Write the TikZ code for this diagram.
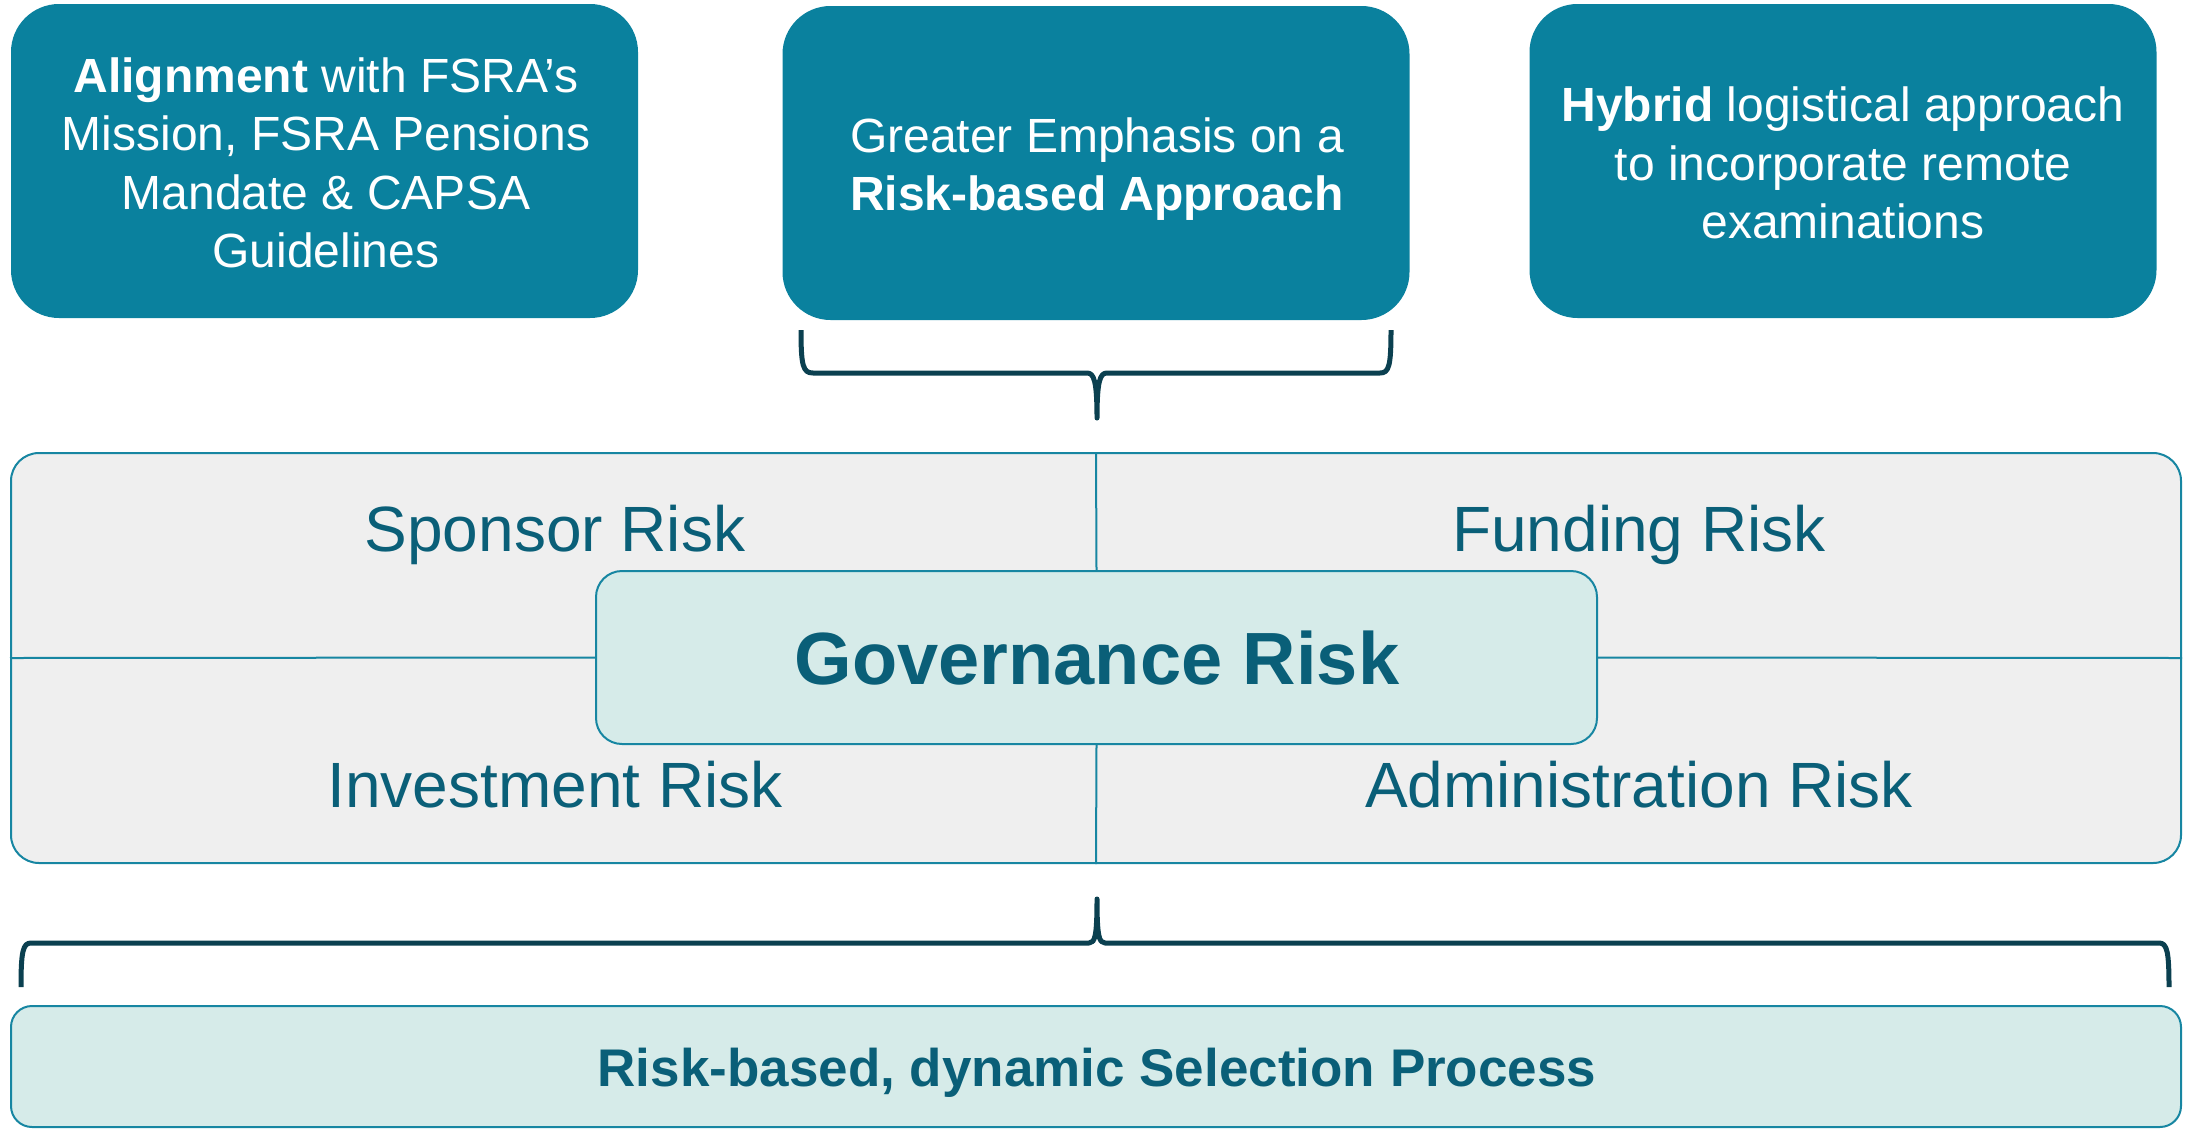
\documentclass[tikz,border=0pt]{standalone}
\usepackage{fontspec}
\setmainfont{Liberation Sans}
\definecolor{tealbox}{RGB}{10,129,158}
\definecolor{tealline}{RGB}{23,134,162}
\definecolor{tealtext}{RGB}{10,95,120}
\definecolor{bracecol}{RGB}{11,64,80}
\definecolor{panelgray}{RGB}{239,239,239}
\definecolor{govfill}{RGB}{214,235,233}
\begin{document}
\begin{tikzpicture}[x=1pt,y=-1pt,
  topbox/.style={draw=none,fill=tealbox,rounded corners=48pt,
    minimum width=627pt,minimum height=314pt,inner sep=0pt},
  toptext/.style={text=white,align=center,inner sep=0pt,
    font=\fontsize{48}{58.5}\selectfont},
  risklabel/.style={text=tealtext,anchor=base,inner sep=0pt,font=\fontsize{64}{70}\selectfont},
  divider/.style={draw=tealline,line width=2pt},
  bracepath/.style={draw=bracecol,line width=5pt,line join=round}]
\useasboundingbox (0,0) rectangle (2185,1128);

% three headline boxes
\node[topbox] (align) at (324.5,161) {};
\node[toptext] (aligntext) at (326,163) {\textbf{Alignment} with FSRA’s\\Mission, FSRA Pensions\\Mandate \& CAPSA\\Guidelines};
\node[topbox] (emph) at (1096,163) {};
\node[toptext] (emphtext) at (1097,169) {Greater Emphasis on a\\\textbf{Risk-based Approach}};
\node[topbox] (hybrid) at (1843,161) {};
\node[toptext] (hybridtext) at (1843,163) {\textbf{Hybrid} logistical approach\\to incorporate remote\\examinations};

% brace under the middle box
\coordinate (b1l) at (801,330);
\coordinate (b1t) at (1097,418);
\coordinate (b1r) at (1391,330);
\draw[bracepath] (b1l) .. controls (801,366) and (803,373) .. (813,373) -- (1087,373)
  .. controls (1094,373) and (1097,381) .. (b1t)
  .. controls (1097,381) and (1100,373) .. (1107,373) -- (1380,373)
  .. controls (1389,373) and (1391,366) .. (b1r);

% risk panel
\node[draw=tealline,line width=2pt,fill=panelgray,rounded corners=28pt,
  minimum width=2170pt,minimum height=410pt,inner sep=0pt] (panel) at (1096,658) {};
\node[draw=tealline,line width=2pt,fill=govfill,rounded corners=26pt,
  minimum width=1001pt,minimum height=173pt,inner sep=0pt] (gov) at (1096.5,657.5) {};
\draw[divider] (panel.north) -- (gov.north);
\draw[divider] (gov.south) -- (panel.south);
\draw[divider] (panel.west) -- (gov.west);
\draw[divider] (gov.east) -- (panel.east);
\node[text=tealtext,anchor=base,inner sep=0pt,font=\fontsize{74}{80}\selectfont\bfseries] (govtext) at (1097,684) {Governance Risk};

\node[risklabel] (sponsor) at (555,551) {Sponsor Risk};
\node[risklabel] (funding) at (1639,551) {Funding Risk};
\node[risklabel] (invest) at (555,807) {Investment Risk};
\node[risklabel] (admin) at (1639,807) {Administration Risk};

% brace above the selection box
\coordinate (b2l) at (21,987);
\coordinate (b2t) at (1097,899);
\coordinate (b2r) at (2169,987);
\draw[bracepath] (b2l) .. controls (21,951) and (23,943) .. (31,943) -- (1089,943)
  .. controls (1095,943) and (1097,936) .. (b2t)
  .. controls (1097,936) and (1099,943) .. (1105,943) -- (2159,943)
  .. controls (2167,943) and (2169,951) .. (b2r);

% selection process box
\node[draw=tealline,line width=2pt,fill=govfill,rounded corners=21pt,
  minimum width=2170pt,minimum height=121pt,inner sep=0pt] (select) at (1096,1066.5) {};
\node[text=tealtext,anchor=base,inner sep=0pt,font=\fontsize{53}{60}\selectfont\bfseries] (selecttext) at (1097,1086) {Risk-based, dynamic Selection Process};
\end{tikzpicture}
\end{document}
